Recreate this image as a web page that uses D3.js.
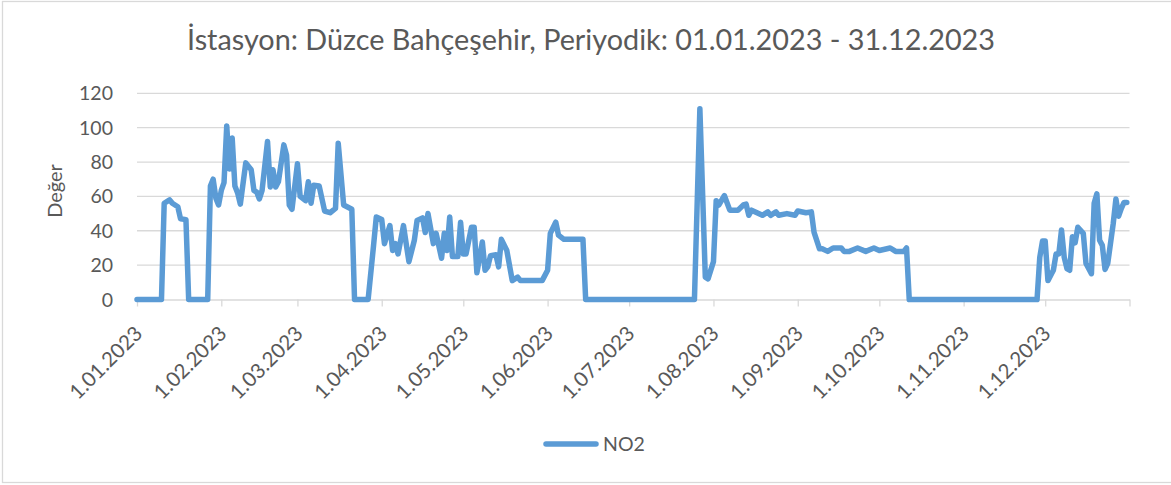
<!DOCTYPE html>
<html lang="tr">
<head>
<meta charset="utf-8">
<title>Düzce Bahçeşehir NO2</title>
<script src="https://d3js.org/d3.v7.min.js"></script>
<style>
body { margin: 0; background: #fff; }
text { font-family: Lato, "Open Sans", sans-serif; fill: #595959; }
.grid line { stroke: #d9d9d9; stroke-width: 1.3; }
.xaxis path, .xaxis line { stroke: #d9d9d9; stroke-width: 1.3; }
</style>
</head>
<body>
<div id="chart"></div>
<script>

// NO2 readings (vertices of the line)
var dates = [
  "2023-01-01","2023-01-10","2023-01-11","2023-01-13","2023-01-14","2023-01-16","2023-01-17","2023-01-19","2023-01-20","2023-01-27",
  "2023-01-28","2023-01-29","2023-01-30","2023-01-31","2023-02-01","2023-02-02","2023-02-03","2023-02-04","2023-02-05","2023-02-06",
  "2023-02-07","2023-02-08","2023-02-10","2023-02-12","2023-02-13","2023-02-14","2023-02-15","2023-02-16","2023-02-18","2023-02-19",
  "2023-02-20","2023-02-21","2023-02-22","2023-02-24","2023-02-25","2023-02-26","2023-02-27","2023-03-01","2023-03-02","2023-03-04",
  "2023-03-05","2023-03-06","2023-03-07","2023-03-09","2023-03-11","2023-03-13","2023-03-15","2023-03-16","2023-03-18","2023-03-21",
  "2023-03-22","2023-03-27","2023-03-29","2023-03-30","2023-04-01","2023-04-02","2023-04-04","2023-04-05","2023-04-06","2023-04-07",
  "2023-04-09","2023-04-11","2023-04-13","2023-04-14","2023-04-16","2023-04-17","2023-04-18","2023-04-20","2023-04-21","2023-04-23",
  "2023-04-24","2023-04-25","2023-04-26","2023-04-27","2023-04-29","2023-04-30","2023-05-01","2023-05-02","2023-05-04","2023-05-05",
  "2023-05-06","2023-05-08","2023-05-09","2023-05-10","2023-05-11","2023-05-13","2023-05-14","2023-05-15","2023-05-17","2023-05-19",
  "2023-05-21","2023-05-22","2023-05-30","2023-06-01","2023-06-02","2023-06-04","2023-06-05","2023-06-07","2023-06-14","2023-06-15",
  "2023-07-25","2023-07-27","2023-07-29","2023-07-30","2023-08-01","2023-08-02","2023-08-03","2023-08-05","2023-08-07","2023-08-10",
  "2023-08-12","2023-08-13","2023-08-14","2023-08-15","2023-08-17","2023-08-19","2023-08-21","2023-08-22","2023-08-24","2023-08-25",
  "2023-08-28","2023-08-31","2023-09-01","2023-09-04","2023-09-06","2023-09-07","2023-09-09","2023-09-10","2023-09-12","2023-09-14",
  "2023-09-17","2023-09-18","2023-09-20","2023-09-23","2023-09-26","2023-09-29","2023-10-01","2023-10-05","2023-10-07","2023-10-10",
  "2023-10-11","2023-10-12","2023-11-28","2023-11-29","2023-11-30","2023-12-01","2023-12-02","2023-12-04","2023-12-05","2023-12-06",
  "2023-12-07","2023-12-08","2023-12-09","2023-12-10","2023-12-11","2023-12-12","2023-12-13","2023-12-15","2023-12-16","2023-12-18",
  "2023-12-19","2023-12-20","2023-12-21","2023-12-22","2023-12-23","2023-12-24","2023-12-26","2023-12-27","2023-12-28","2023-12-29",
  "2023-12-30","2023-12-31"
];
var no2 = [
  0, 0, 56, 58, 56, 54, 47, 46.5, 0, 0,
  66, 70, 59, 55, 63.5, 68, 101, 76, 94, 66,
  62, 55.5, 79.5, 75.5, 63.5, 62.5, 58.5, 63.5, 92, 65.5,
  75.5, 65.5, 68.5, 90, 84, 55, 52.5, 79, 60, 57.5,
  68.5, 56, 66.5, 66, 51.5, 50.5, 53, 91, 55, 52.5,
  0, 0, 31.5, 48, 46.5, 32.5, 43, 28.5, 32.5, 26.5,
  43, 22, 34.5, 46, 47.5, 39, 50, 32.5, 38.5, 24,
  38.5, 28.5, 48, 25, 25, 45, 26.5, 26.5, 42, 42,
  15.5, 33.5, 17, 19, 25.5, 26, 19, 35, 28.5, 11,
  13, 11, 11, 17, 38.5, 45, 37.5, 35, 35, 0,
  0, 111, 13, 12, 22, 57.5, 55, 60.5, 52, 52,
  55, 55.5, 49, 52, 50.5, 49, 51, 49, 51, 49,
  50, 49, 51.5, 50.5, 51, 39, 29.5, 29.5, 28, 30,
  30, 28, 28, 30, 28, 30, 28.5, 30, 28, 28,
  30, 0, 0, 24.5, 34, 34, 11, 17, 26.5, 26.5,
  40.5, 24.5, 18, 17, 36.5, 33, 42, 38.5, 21, 15,
  56, 61.5, 34.5, 31.5, 17.5, 21, 44, 58.5, 48.5, 53,
  56.5, 56.5
];
var yTicks = [0, 20, 40, 60, 80, 100, 120];
var xTickLabels = ["1.01.2023","1.02.2023","1.03.2023","1.04.2023","1.05.2023","1.06.2023",
                   "1.07.2023","1.08.2023","1.09.2023","1.10.2023","1.11.2023","1.12.2023"];
var seriesName = "NO2";
var title = "İstasyon: Düzce Bahçeşehir, Periyodik: 01.01.2023 - 31.12.2023";
var yTitle = "Değer";

var W = 1171, H = 485;
var plot = {left: 137, right: 1129.5, top: 93.3, bottom: 299.5};
var parse = d3.utcParse("%Y-%m-%d");

var data = dates.map(function(d, i) { return {date: parse(d), value: no2[i]}; });

var svg = d3.select("#chart").append("svg")
    .attr("width", W)
    .attr("height", H);

// chart area border
svg.append("rect")
    .attr("x", 2.5).attr("y", 1.5)
    .attr("width", W + 5).attr("height", 481)
    .attr("fill", "#fff")
    .attr("stroke", "#d9d9d9")
    .attr("stroke-width", 1.3);

var x = d3.scaleUtc()
    .domain([parse("2023-01-01"), parse("2024-01-01")])
    .range([plot.left, plot.right]);
var y = d3.scaleLinear().domain([0, 120]).range([plot.bottom, plot.top]);

// horizontal gridlines
svg.append("g").attr("class", "grid")
  .selectAll("line")
  .data(yTicks.filter(function(t) { return t > 0; }))
  .enter().append("line")
    .attr("x1", plot.left).attr("x2", plot.right)
    .attr("y1", function(d) { return y(d); })
    .attr("y2", function(d) { return y(d); });

// y tick labels
svg.append("g")
  .selectAll("text")
  .data(yTicks)
  .enter().append("text")
    .attr("x", 113)
    .attr("y", function(d) { return y(d); })
    .attr("dy", "0.36em")
    .attr("text-anchor", "end")
    .style("font-size", "19.5px")
    .text(function(d) { return d; });

// x axis
var tickDates = d3.utcMonth.range(parse("2023-01-01"), parse("2024-01-02"));
var xAxis = svg.append("g")
    .attr("class", "xaxis")
    .attr("transform", "translate(0," + plot.bottom + ")")
    .call(d3.axisBottom(x)
        .tickValues(tickDates)
        .tickSize(7)
        .tickSizeOuter(0)
        .tickFormat(function(d, i) { return xTickLabels[i] || ""; }));
xAxis.selectAll("text")
    .style("font-size", "20.5px")
    .attr("fill", "#595959")
    .attr("text-anchor", "end")
    .attr("y", 0)
    .attr("dy", "0.36em")
    .attr("transform", "translate(1,30) rotate(-45)");

// the series line
svg.append("path")
    .datum(data)
    .attr("fill", "none")
    .attr("stroke", "#5b9bd5")
    .attr("stroke-width", 5.5)
    .attr("stroke-linejoin", "round")
    .attr("stroke-linecap", "round")
    .attr("d", d3.line()
        .x(function(d) { return x(d.date); })
        .y(function(d) { return y(d.value); }));

// title
svg.append("text")
    .attr("x", 591)
    .attr("y", 50)
    .attr("text-anchor", "middle")
    .attr("textLength", 808)
    .attr("lengthAdjust", "spacingAndGlyphs")
    .style("font-size", "28px")
    .text(title);

// y axis title
svg.append("text")
    .attr("transform", "translate(61.5,191) rotate(-90)")
    .attr("text-anchor", "middle")
    .style("font-size", "20px")
    .text(yTitle);

// legend
var legend = svg.append("g");
legend.append("line")
    .attr("x1", 546).attr("x2", 596)
    .attr("y1", 444).attr("y2", 444)
    .attr("stroke", "#5b9bd5")
    .attr("stroke-width", 5.5)
    .attr("stroke-linecap", "round");
legend.append("text")
    .attr("x", 603)
    .attr("y", 444)
    .attr("dy", "0.36em")
    .style("font-size", "19.5px")
    .text(seriesName);

</script>
</body>
</html>
